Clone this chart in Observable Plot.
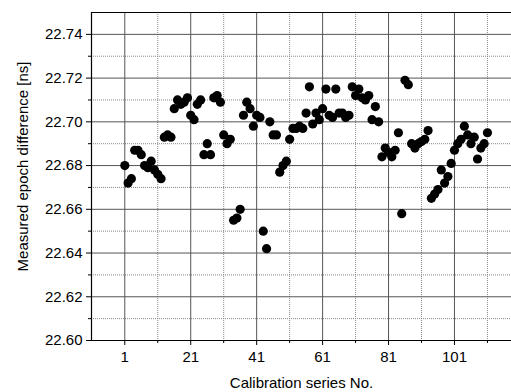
<!DOCTYPE html>
<html>
<head>
<meta charset="utf-8">
<script src="https://cdn.jsdelivr.net/npm/d3@7"></script>
<script src="https://cdn.jsdelivr.net/npm/@observablehq/plot@0.6"></script>
<style>
  html, body { margin: 0; padding: 0; background: white; }
</style>
</head>
<body>
<div id="chart"></div>
<script>
// Measured epoch difference [ns] for calibration series No. 1, 2, 3, ...
const epochDiff = [
  22.680, 22.672, 22.674, 22.687, 22.687, 22.685, 22.680, 22.679, 22.682, 22.678,
  22.676, 22.674, 22.693, 22.694, 22.693, 22.706, 22.710, 22.708, 22.709, 22.711,
  22.703, 22.701, 22.708, 22.710, 22.685, 22.690, 22.685, 22.711, 22.712, 22.709,
  22.694, 22.690, 22.692, 22.655, 22.656, 22.660, 22.703, 22.709, 22.706, 22.698,
  22.703, 22.702, 22.650, 22.642, 22.700, 22.694, 22.694, 22.677, 22.680, 22.682,
  22.692, 22.697, 22.697, 22.698, 22.697, 22.704, 22.716, 22.699, 22.704, 22.701,
  22.706, 22.715, 22.703, 22.702, 22.715, 22.704, 22.704, 22.702, 22.703, 22.716,
  22.712, 22.715, 22.711, 22.710, 22.712, 22.701, 22.707, 22.700, 22.684, 22.688,
  22.686, 22.684, 22.687, 22.695, 22.658, 22.719, 22.717, 22.690, 22.688, 22.690,
  22.691, 22.692, 22.696, 22.665, 22.667, 22.669, 22.678, 22.672, 22.675, 22.681,
  22.687, 22.690, 22.692, 22.698, 22.694, 22.690, 22.693, 22.683, 22.688, 22.690,
  22.695
];

const xMajorTicks = [1, 21, 41, 61, 81, 101];
const xMinorTicks = [11, 31, 51, 71, 91, 111];
const yMajorTicks = [22.60, 22.62, 22.64, 22.66, 22.68, 22.70, 22.72, 22.74];
const yMinorTicks = [22.61, 22.63, 22.65, 22.67, 22.69, 22.71, 22.73];

const xLabel = "Calibration series No.";
const yLabel = "Measured epoch difference [ns]";

const data = epochDiff.map((v, i) => ({series: i + 1, value: v}));

const xDomain = [-9.1, 118.3];
const yDomain = [22.60, 22.75];

const chart = Plot.plot({
  width: 511,
  height: 392,
  marginLeft: 91,
  marginRight: 0,
  marginTop: 12,
  marginBottom: 52,
  x: {domain: xDomain},
  y: {domain: yDomain},
  style: {fontFamily: "'Liberation Sans', Arial, sans-serif", fontSize: "15px", color: "black", background: "white", overflow: "visible"},
  marks: [
    Plot.gridX(xMinorTicks, {stroke: "#888", strokeOpacity: 1, strokeDasharray: "1,1"}),
    Plot.gridY(yMinorTicks, {stroke: "#888", strokeOpacity: 1, strokeDasharray: "1,1"}),
    Plot.gridX(xMajorTicks, {stroke: "#555", strokeOpacity: 1}),
    Plot.gridY(yMajorTicks, {stroke: "#555", strokeOpacity: 1}),
    Plot.axisX(xMajorTicks, {tickSize: 5, tickPadding: 6, label: null, stroke: "black"}),
    Plot.axisX(xMinorTicks, {tickSize: 3, tickFormat: () => "", label: null, stroke: "black"}),
    Plot.axisY(yMajorTicks, {tickSize: 5, tickPadding: 4, tickFormat: d3.format(".2f"), label: null, stroke: "black"}),
    Plot.axisY(yMinorTicks, {tickSize: 3, tickFormat: () => "", label: null, stroke: "black"}),
    Plot.ruleX([xDomain[0]], {stroke: "black", strokeWidth: 1.2}),
    Plot.ruleY([yDomain[0]], {stroke: "black", strokeWidth: 1.2}),
    Plot.ruleY([yDomain[1]], {stroke: "black", strokeWidth: 1.2}),
    Plot.dot(data, {x: "series", y: "value", r: 4.6, fill: "black", stroke: null}),
    Plot.text([xLabel], {frameAnchor: "bottom", dy: 43, text: d => d, fontSize: 15, fill: "black", textAnchor: "middle", lineAnchor: "middle"}),
    Plot.text([yLabel], {frameAnchor: "left", rotate: -90, dx: -68, dy: -10, text: d => d, fontSize: 15, fill: "black", textAnchor: "middle", lineAnchor: "middle"})
  ]
});

document.getElementById("chart").appendChild(chart);
</script>
</body>
</html>
